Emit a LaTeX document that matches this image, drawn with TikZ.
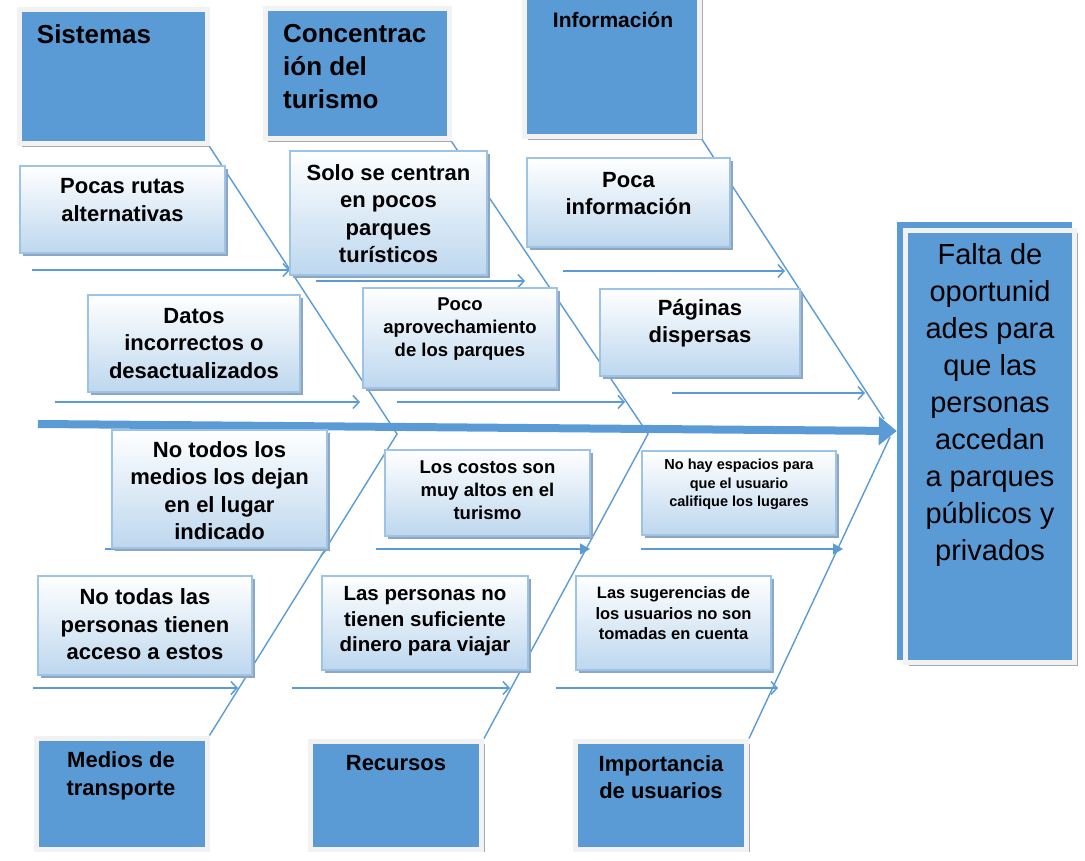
\documentclass[tikz,border=0pt]{standalone}
\usepackage{fontspec}
\setmainfont{Liberation Sans}
\usetikzlibrary{arrows.meta}
\usetikzlibrary{shadows}

\definecolor{catblue}{RGB}{91,155,213}
\definecolor{causeline}{RGB}{157,195,230}
\definecolor{causelow}{RGB}{189,215,238}
\definecolor{causeshade}{RGB}{143,166,192}
\definecolor{catframe}{RGB}{242,242,242}
\definecolor{catshade}{RGB}{170,170,170}

\tikzset{
	catbox/.style={draw=catframe, line width=5pt, fill=catblue,
		drop shadow={shadow xshift=3pt, shadow yshift=-3pt, fill=catshade, opacity=1}},
	causeframe/.style={draw=causeline, line width=1.5pt, top color=white, bottom color=causelow,
		drop shadow={shadow xshift=3pt, shadow yshift=-3pt, fill=causeshade, opacity=1}},
	bone/.style={draw=catblue, line width=1.4pt},
	subarrow/.style={draw=catblue, line width=1.5pt, -{Straight Barb[length=6pt,width=13pt]}},
	subfilled/.style={draw=catblue, line width=1.5pt, -{Triangle[length=10pt,width=11pt]}},
	spine/.style={draw=catblue, line width=8pt, -{Triangle[length=18pt,width=28pt]}},
	txtL/.style={font=\bfseries\fontsize{22}{27.5}\selectfont, align=center, inner sep=0pt},
	txtLM/.style={font=\bfseries\fontsize{20.5}{25.5}\selectfont, align=center, inner sep=0pt},
	txtM/.style={font=\bfseries\fontsize{18.5}{23}\selectfont, align=center, inner sep=0pt},
	txtSM/.style={font=\bfseries\fontsize{16.5}{20.5}\selectfont, align=center, inner sep=0pt},
	txtS/.style={font=\bfseries\fontsize{14.5}{18.5}\selectfont, align=center, inner sep=0pt},
	cattxt/.style={font=\bfseries\fontsize{26}{33}\selectfont, align=left, inner sep=0pt},
}

% name, x, y, width, height, text y, text style, text
\newcommand{\causebox}[8]{
	\node[causeframe, minimum width=#4pt, minimum height=#5pt] (#1) at (#2,#3) {};
	\node[#7] (#1txt) at (#2,#6) {#8};
}

\begin{document}
\begin{tikzpicture}[x=1pt, y=-1pt]
\useasboundingbox (0,0) rectangle (1085,861);

% categories
\node[catbox, minimum width=188pt, minimum height=134pt] (sist) at (113,77) {};
\node[catbox, minimum width=184pt, minimum height=130pt] (conc) at (357,74) {};
\node[catbox, minimum width=175pt, minimum height=140pt] (info) at (612,67) {};
\node[catbox, minimum width=171pt, minimum height=111pt] (medios) at (121.5,793.5) {};
\node[catbox, minimum width=171pt, minimum height=108pt] (recur) at (396,795) {};
\node[catbox, minimum width=171pt, minimum height=108pt] (impor) at (661,795) {};

% effect
\node[fill=catblue, minimum width=175pt, minimum height=438pt] (effback) at (984.5,441) {};
\node[catbox, minimum width=169pt, minimum height=432pt] (effect) at (990,446.5) {};
\node[font=\fontsize{29}{37}\selectfont, align=center, inner sep=0pt] (efftxt) at (990,405)
	{Falta de\\oportunid\\ades para\\que las\\personas\\accedan\\a parques\\públicos y\\privados};

% bones
\coordinate (j1) at (397,434);
\coordinate (j2) at (648,434);
\coordinate (j3) at (884,419);
\coordinate (j4) at (890,437);
\draw[bone] (sist.south east) -- (j1) -- (medios.north east);
\draw[bone] (conc.south east) -- (j2) -- (recur.north east);
\draw[bone] (info.south east) -- (j3);
\draw[bone] (impor.north east) -- (j4);

% small arrows
\foreach \n/\xa/\xb/\y in {a/32/290/270, b/316/525/281, c/563/785/271, d/55/360/402,
	e/397/625/402, f/672/865/393, g/105/328/549, h/33/238/688, i/292/510/688, j/556/778/688}
{
	\coordinate (\n0) at (\xa,\y);
	\coordinate (\n1) at (\xb,\y);
	\draw[subarrow] (\n0) -- (\n1);
}
\foreach \n/\xa/\xb/\y in {k/376/590/549, l/641/843/549}
{
	\coordinate (\n0) at (\xa,\y);
	\coordinate (\n1) at (\xb,\y);
	\draw[subfilled] (\n0) -- (\n1);
}

% spine
\coordinate (spinestart) at (38,424);
\draw[spine] (spinestart) -- ([yshift=10pt]effback.west);

% causes
\causebox{pocas}{122.5}{209.5}{205}{87}{200}{txtL}{Pocas rutas\\alternativas}
\causebox{solo}{388.5}{213}{197}{124}{213.5}{txtL}{Solo se centran\\en pocos\\parques\\turísticos}
\causebox{poca}{628.5}{202.5}{203}{89}{193.5}{txtL}{Poca\\información}
\causebox{datos}{194}{343.5}{212}{97}{343.5}{txtL}{Datos\\incorrectos o\\desactualizados}
\causebox{aprov}{460}{338}{194}{100}{329}{txtM}{Poco\\aprovechamiento\\de los parques}
\causebox{pag}{700}{332.5}{200}{87}{323}{txtL}{Páginas\\dispersas}
\causebox{lugar}{219.5}{489}{215}{118}{490.5}{txtL}{No todos los\\medios los dejan\\en el lugar\\indicado}
\causebox{costos}{487.5}{493}{205}{86}{490}{txtM}{Los costos son\\muy altos en el\\turismo}
\causebox{espacios}{739}{493}{194}{84}{484.5}{txtS}{No hay espacios para\\que el usuario\\califique los lugares}
\causebox{acceso}{145}{625.5}{214}{99}{624.5}{txtL}{No todas las\\personas tienen\\acceso a estos}
\causebox{dinero}{425}{623}{206}{94}{621.5}{txtLM}{Las personas no\\tienen suficiente\\dinero para viajar}
\causebox{suger}{673.5}{623}{195}{94}{613.5}{txtSM}{Las sugerencias de\\los usuarios no son\\tomadas en cuenta}

% category texts
\node[cattxt] (sisttxt) at (94,34) {Sistemas};
\node[cattxt, anchor=west] (conctxt) at (283,67) {Concentrac\\ión del\\turismo};
\node[cattxt, font=\bfseries\fontsize{21}{26}\selectfont] (infotxt) at (613,20) {Información};
\node[txtL] (mediostxt) at (121,776) {Medios de\\transporte};
\node[txtL] (recurtxt) at (396,763) {Recursos};
\node[txtL] (importxt) at (661,777) {Importancia\\de usuarios};

\end{tikzpicture}
\end{document}
